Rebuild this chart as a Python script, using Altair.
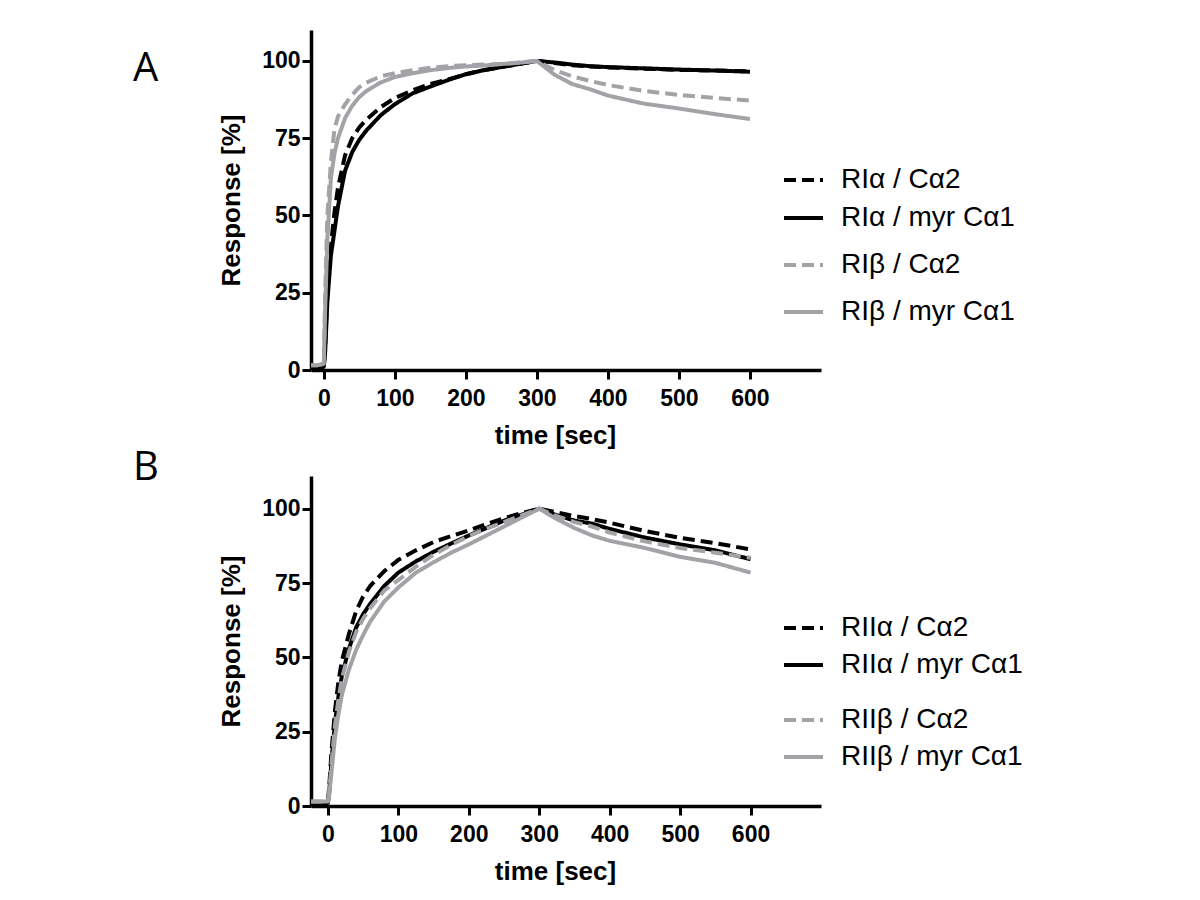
import altair as alt
import pandas as pd

# ---------------- data ----------------
times_a = [-18, -10, 0, 2, 5, 10, 15, 20, 30, 40, 50, 60, 80, 100, 125, 150, 175,
           200, 225, 250, 275, 300, 325, 350, 375, 400, 450, 500, 550, 600]
times_b = [-24, -10, 0, 2, 5, 10, 15, 20, 30, 40, 50, 60, 80, 100, 125, 150, 175,
           200, 225, 250, 275, 300, 325, 350, 375, 400, 450, 500, 550, 600]

labels_a = ["RIα / Cα2", "RIα / myr Cα1", "RIβ / Cα2", "RIβ / myr Cα1"]
labels_b = ["RIIα / Cα2", "RIIα / myr Cα1", "RIIβ / Cα2", "RIIβ / myr Cα1"]

ria_ca2 = [1, 1, 1, 8, 25, 40, 51, 59, 69.5, 75, 78.5, 81, 85, 88, 90.5, 92.5, 94,
           95.7, 97, 98, 99, 100, 99.3, 98.6, 98.2, 97.9, 97.5, 97.1, 96.9, 96.6]
ria_myr = [1, 1, 1, 6, 22, 37, 45, 53, 64.5, 70.5, 74.5, 77.5, 82.4, 86, 89.5, 91.7, 93.8,
           95.7, 97, 98, 99, 100, 99.5, 98.8, 98.3, 98, 97.6, 97.2, 96.9, 96.5]
rib_ca2 = [1.5, 1.5, 2, 25, 50, 67, 78, 82, 86, 89, 91.5, 93, 95, 96, 97, 97.8, 98.3,
           98.6, 98.8, 99, 99.5, 100, 97, 95, 93.5, 92.2, 90.3, 89, 88, 87.2]
rib_myr = [1.5, 1.5, 2, 20, 42, 62, 70, 75, 81.5, 85.5, 88.3, 90.3, 93, 94.8, 96, 97, 97.7,
           98.2, 98.5, 99, 99.4, 100, 95.5, 92.5, 90.8, 88.8, 86.2, 84.6, 82.8, 81.2]

riia_ca2 = [1, 1, 1, 7, 18, 32, 42, 49, 58, 65.5, 70.5, 74, 79, 82.8, 86, 88.8, 90.8,
            92.7, 94.8, 96.8, 98.5, 100, 98.8, 97.5, 96.5, 95.3, 92.5, 90.2, 88.4, 86.3]
riia_myr = [1, 1, 1, 5, 15, 28, 37, 44, 53, 60, 64.5, 68, 74, 78.5, 82.3, 85.5, 88.3,
            91, 93.5, 96, 98, 100, 97.8, 96, 95, 93.2, 90.3, 88, 86, 83]
riib_ca2 = [1.5, 1.5, 1.5, 5, 14, 27, 36, 43, 52, 58.5, 63, 66.5, 72.5, 76, 80.5, 84.5, 87.8,
            90.8, 93.3, 95.5, 97.8, 100, 97.5, 95.5, 94, 92, 89, 86.8, 85.2, 83.5]
riib_myr = [1.5, 1.5, 1.5, 4, 11, 23, 31, 37.5, 46, 52.5, 57.5, 62, 68.8, 73.5, 78.5, 82, 85.2,
            88, 91, 94, 97, 100, 96.5, 93.5, 91, 89.2, 86.8, 83.8, 81.8, 78.5]

x_ticks = [0, 100, 200, 300, 400, 500, 600]
y_ticks = [0, 25, 50, 75, 100]

BLACK = "#000000"
GRAY = "#a3a3a7"
styles = [(BLACK, [12, 6]), (BLACK, [1, 0]), (GRAY, [12, 6]), (GRAY, [1, 0])]

FONT = "Liberation Sans"


def panel(letter, letter_y, times, series, labels, xdom, ydom, height, legend_y):
    x_axis = alt.Axis(values=x_ticks, title="time [sec]", grid=False,
                      domainColor=BLACK, domainWidth=3.5, tickColor=BLACK, tickWidth=3,
                      tickSize=9, labelFont=FONT, labelFontSize=23, labelFontWeight="bold",
                      labelColor=BLACK, labelPadding=8, labelFlush=False,
                      titleFont=FONT, titleFontSize=26, titleFontWeight="bold",
                      titleColor=BLACK, titlePadding=12, titleX=244)
    y_axis = alt.Axis(values=y_ticks, title="Response [%]", grid=False,
                      domainColor=BLACK, domainWidth=3.5, tickColor=BLACK, tickWidth=3,
                      tickSize=9, labelFont=FONT, labelFontSize=23, labelFontWeight="bold",
                      labelColor=BLACK, labelPadding=2, labelFlush=False,
                      titleFont=FONT, titleFontSize=26, titleFontWeight="bold",
                      titleColor=BLACK, titlePadding=17)
    xs = alt.Scale(domain=xdom, nice=False, zero=False)
    ys = alt.Scale(domain=ydom, nice=False, zero=False)

    layers = []
    for i, (vals, lab) in enumerate(zip(series, labels)):
        col, dash = styles[i]
        df = pd.DataFrame({"time": times, "value": vals, "series": lab})
        ch = alt.Chart(df).mark_line(color=col, strokeDash=dash, strokeWidth=4,
                                     strokeJoin="round").encode(
            x=alt.X("time:Q", scale=xs, axis=x_axis),
            y=alt.Y("value:Q", scale=ys, axis=y_axis),
        )
        layers.append(ch)

    one = alt.Data(values=[{}])
    for i, lab in enumerate(labels):
        col, dash = styles[i]
        yy = legend_y[i]
        layers.append(alt.Chart(one).mark_rule(color=col, strokeDash=dash, strokeWidth=4).encode(
            x=alt.value(473), x2=alt.value(512), y=alt.value(yy)))
        layers.append(alt.Chart(one).mark_text(align="left", baseline="middle", font=FONT,
                                               fontSize=28, color=BLACK).encode(
            x=alt.value(530), y=alt.value(yy), text=alt.value(lab)))
    layers.append(alt.Chart(one).mark_text(align="left", baseline="alphabetic", font="Open Sans",
                                           fontSize=40, color=BLACK).encode(
        x=alt.value(-178), y=alt.value(letter_y), text=alt.value(letter)))

    return alt.layer(*layers).properties(width=510, height=height)


pa = panel("A", 51, times_a, [ria_ca2, ria_myr, rib_ca2, rib_myr], labels_a,
           [-18, 700], [0, 110], 340, [150, 188, 235, 282])
pb = panel("B", 4, times_b, [riia_ca2, riia_myr, riib_ca2, riib_myr], labels_b,
           [-24, 700], [0, 111], 330, [152, 189, 244, 281])

chart = alt.vconcat(pa, pb, spacing=106, bounds="flush").properties(
    padding={"left": 125, "top": 22, "right": 5, "bottom": 5}
).configure_view(stroke=None).resolve_scale(x="independent", y="independent")

chart.save("out.html", embed_options={"renderer": "svg", "actions": False})
